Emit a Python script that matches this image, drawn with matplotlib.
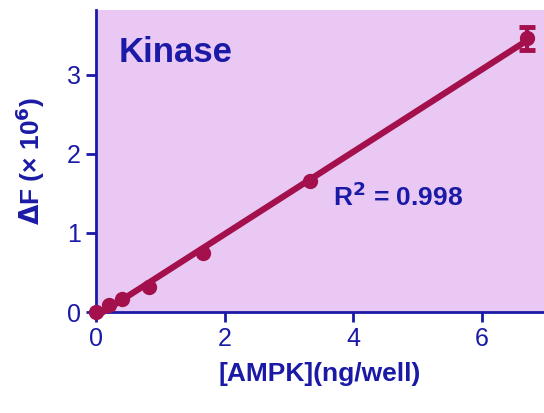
import matplotlib.pyplot as plt
import numpy as np

# AMPK amount (ng/well) and signal (x 10^6)
ampk = [0, 0.2, 0.41, 0.83, 1.67, 3.33, 6.7]
delta_f = [0.0, 0.09, 0.16, 0.32, 0.75, 1.66, 3.46]
err = [0, 0, 0, 0, 0, 0, 0.14]

blue = '#1a1aa6'
red = '#a3104c'

plt.rcParams['font.family'] = ['Liberation Sans', 'DejaVu Sans']

fig = plt.figure(figsize=(5.44, 4.13), dpi=100)
ax = fig.add_axes([96 / 544, 101 / 413, 448 / 544, 302 / 413])
ax.set_facecolor('#e9c9f3')

slope, icpt = np.polyfit(ampk, delta_f, 1)
xs = np.array([0, max(ampk)])
ax.plot(xs, slope * xs + icpt, color=red, lw=4.5, clip_on=False, zorder=3)
ax.plot(ampk, delta_f, 'o', color=red, ms=10, clip_on=False, zorder=4)

# only the top point has a visible error bar
has_err = [e > 0 for e in err]
ax.errorbar(np.array(ampk)[has_err], np.array(delta_f)[has_err],
            yerr=np.array(err)[has_err], fmt='none', ecolor=red, capsize=6,
            elinewidth=3, capthick=3.5, clip_on=False, zorder=4)

ax.set_xlim(0, 6.97)
ax.set_ylim(0, 3.82)
ax.set_xticks([0, 2, 4, 6])
ax.set_yticks([0, 1, 2, 3])

for s in ['top', 'right']:
    ax.spines[s].set_visible(False)
for s in ['left', 'bottom']:
    ax.spines[s].set_color(blue)
    ax.spines[s].set_linewidth(2)
ax.tick_params(colors=blue, labelsize=18, width=2, length=7, pad=4)

ax.set_xlabel('[AMPK](ng/well)', fontsize=19, fontweight='bold', color=blue, labelpad=8)
ax.set_ylabel(r'$\mathbf{\Delta}$F (× 10$^{\mathbf{6}}$)', fontsize=19, fontweight='bold',
              color=blue, labelpad=14)

ax.text(0.05, 0.86, 'Kinase', transform=ax.transAxes, fontsize=25,
        fontweight='bold', color=blue, va='center')
ax.text(0.53, 0.38, r'R$^{\mathbf{2}}$ = 0.998', transform=ax.transAxes, fontsize=19,
        fontweight='bold', color=blue, va='center')

fig.savefig('out.png', dpi=100)
